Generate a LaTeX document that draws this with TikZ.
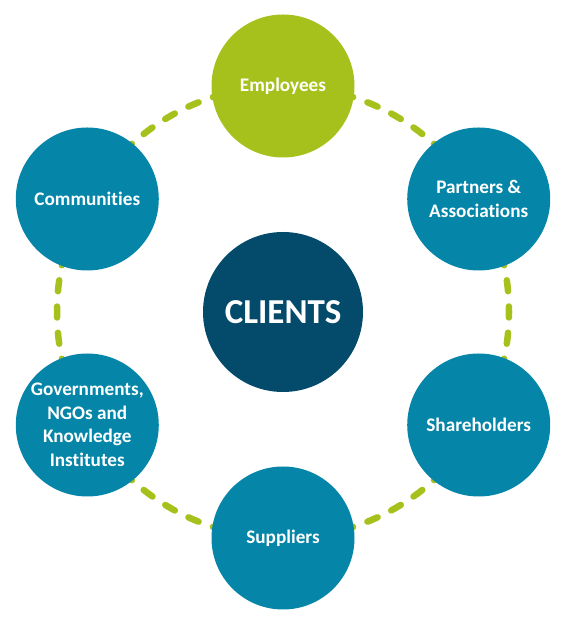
\documentclass[tikz,border=0pt]{standalone}
\usepackage{fontspec}
\setmainfont{Carlito}[Ligatures={NoCommon}]
\usetikzlibrary{calc}
\definecolor{leaf}{HTML}{A6C11C}
\definecolor{teal}{HTML}{0586A8}
\definecolor{deep}{HTML}{044A6B}
\tikzset{
  sat/.style={circle, fill=teal, minimum size=143pt, inner sep=0pt, text=white,
    align=center, font=\fontsize{19.2}{23.5}\selectfont\bfseries},
  hub/.style={circle, fill=deep, minimum size=160pt, inner sep=0pt, text=white,
    font=\fontsize{35}{40}\selectfont\bfseries},
  ring/.style={draw=leaf, line width=6.5pt, line cap=round,
    dash pattern=on 11pt off 15.3pt, dash phase=5.5pt}
}
\begin{document}
\begin{tikzpicture}[x=1pt,y=1pt]
\useasboundingbox (0,0) rectangle (564,623);
\coordinate (c) at (283,311);
\draw[ring] (c) ++(0:226) arc[start angle=0, end angle=360, radius=226];
\node[hub] (clients) at (c) {CLIENTS};
\node[sat, fill=leaf] (emp) at ($(c)+(90:226)$) {Employees};
\node[sat] (part) at ($(c)+(30:226)$) {Partners \&\\Associations};
\node[sat] (share) at ($(c)+(-30:226)$) {Shareholders};
\node[sat] (supp) at ($(c)+(-90:226)$) {Suppliers};
\node[sat] (gov) at ($(c)+(-150:226)$) {Governments,\\NGOs and\\Knowledge\\Institutes};
\node[sat] (comm) at ($(c)+(150:226)$) {Communities};
\end{tikzpicture}
\end{document}
